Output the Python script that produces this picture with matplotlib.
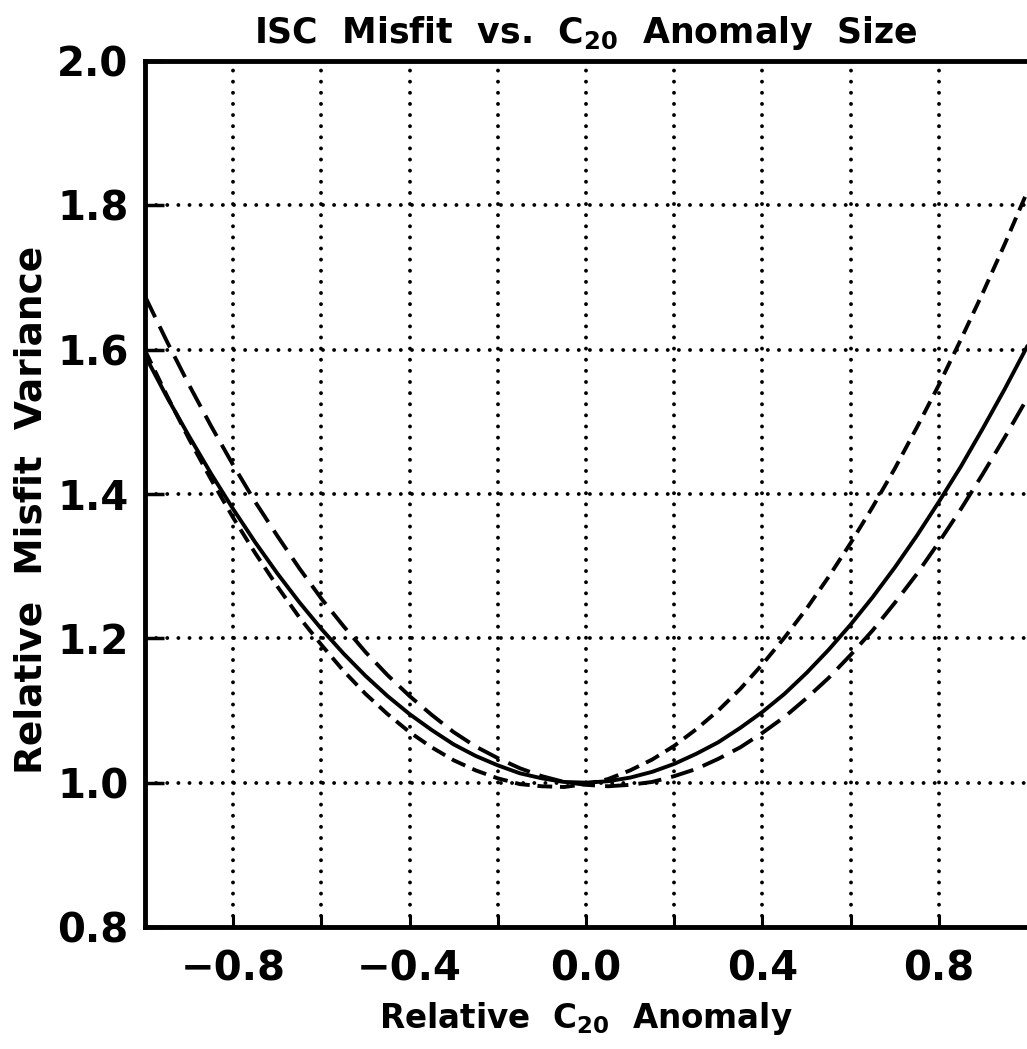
import numpy as np
import matplotlib
matplotlib.use("Agg")
import matplotlib.pyplot as plt

# relative C20 anomaly (x), read every 0.05
anomaly = [-1.00, -0.95, -0.90, -0.85, -0.80, -0.75, -0.70, -0.65, -0.60, -0.55, -0.50,
           -0.45, -0.40, -0.35, -0.30, -0.25, -0.20, -0.15, -0.10, -0.05, 0.00,
           0.05, 0.10, 0.15, 0.20, 0.25, 0.30, 0.35, 0.40, 0.45, 0.50,
           0.55, 0.60, 0.65, 0.70, 0.75, 0.80, 0.85, 0.90, 0.95, 1.00]
# relative misfit variance, solid curve
misfit_solid = [1.592, 1.534, 1.480, 1.428, 1.379, 1.333, 1.290, 1.250, 1.213, 1.179, 1.148,
                1.120, 1.095, 1.073, 1.053, 1.037, 1.024, 1.013, 1.006, 1.001, 1.000,
                1.002, 1.007, 1.015, 1.026, 1.040, 1.056, 1.076, 1.098, 1.123, 1.152,
                1.184, 1.219, 1.257, 1.298, 1.342, 1.389, 1.438, 1.491, 1.546, 1.604]
# long-dashed curve
misfit_long = [1.674, 1.611, 1.551, 1.494, 1.440, 1.389, 1.342, 1.297, 1.255, 1.217, 1.181,
               1.149, 1.120, 1.094, 1.070, 1.050, 1.034, 1.020, 1.009, 1.001, 0.997,
               0.995, 0.997, 1.001, 1.009, 1.019, 1.033, 1.049, 1.069, 1.091, 1.117,
               1.145, 1.177, 1.211, 1.249, 1.289, 1.333, 1.379, 1.428, 1.479, 1.532]
# short-dashed curve
misfit_short = [1.599, 1.536, 1.476, 1.420, 1.367, 1.318, 1.272, 1.229, 1.191, 1.155, 1.123,
                1.095, 1.070, 1.049, 1.031, 1.017, 1.006, 0.998, 0.995, 0.994, 0.998,
                1.005, 1.017, 1.032, 1.051, 1.074, 1.100, 1.130, 1.164, 1.201, 1.241,
                1.285, 1.332, 1.382, 1.435, 1.492, 1.551, 1.614, 1.679, 1.747, 1.818]

xticks = [-0.8, -0.6, -0.4, -0.2, 0.0, 0.2, 0.4, 0.6, 0.8]
xticklabels = ["\u22120.8", "", "\u22120.4", "", "0.0", "", "0.4", "", "0.8"]
yticks = [0.8, 1.0, 1.2, 1.4, 1.6, 1.8, 2.0]
yticklabels = ["0.8", "1.0", "1.2", "1.4", "1.6", "1.8", "2.0"]

plt.rcParams["font.family"] = "DejaVu Sans"
plt.rcParams["font.weight"] = "bold"
plt.rcParams["mathtext.fontset"] = "custom"
plt.rcParams["mathtext.rm"] = "DejaVu Sans:bold"
plt.rcParams["mathtext.default"] = "rm"

fig = plt.figure(figsize=(10.27, 10.49), dpi=100)
ax = fig.add_axes([145 / 1027, 122 / 1049, 882 / 1027, 866 / 1049])

lw = 2.8
ax.plot(anomaly, misfit_solid, color="black", lw=lw)
ax.plot(anomaly, misfit_long, color="black", lw=lw, linestyle=(0, (6.0, 2.6)))
ax.plot(anomaly, misfit_short, color="black", lw=lw, linestyle=(0, (3.8, 2.0)))

ax.set_xlim(-1.0, 1.0)
ax.set_ylim(0.8, 2.0)

# dotted grid
dots = dict(color="black", lw=2.8, linestyle=(0, (0.01, 2.85)),
            dash_capstyle="round", zorder=0)
for xv in xticks:
    ax.axvline(xv, **dots)
for yv in yticks[1:-1]:
    ax.axhline(yv, **dots)

ax.set_xticks(xticks)
ax.set_xticklabels(xticklabels)
ax.set_yticks(yticks)
ax.set_yticklabels(yticklabels)
ax.tick_params(axis="x", direction="in", length=9, width=2.2, labelsize=29, pad=16)
ax.tick_params(axis="y", direction="in", length=14, width=2.5, labelsize=29, pad=12)

for side in ["left", "bottom", "top"]:
    ax.spines[side].set_linewidth(3.5)
ax.spines["right"].set_visible(False)

ax.set_xlabel("Relative  C$_{20}$  Anomaly", fontsize=23.5, fontweight="bold", labelpad=8)
ax.set_ylabel("Relative  Misfit  Variance", fontsize=27, fontweight="bold")
ax.yaxis.set_label_coords(-0.108, 0.4815)
ax.set_title("ISC  Misfit  vs.  C$_{20}$  Anomaly  Size", fontsize=25, fontweight="bold", pad=13)

fig.savefig("out.png", dpi=100)
